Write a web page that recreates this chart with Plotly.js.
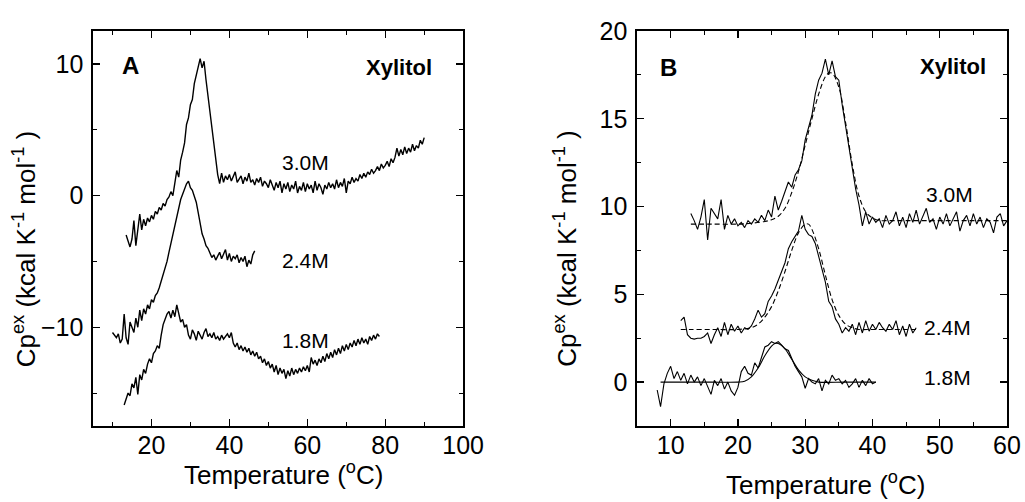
<!DOCTYPE html>
<html>
<head>
<meta charset="utf-8">
<script src="https://cdn.plot.ly/plotly-3.0.1.min.js"></script>
<style>html,body{margin:0;padding:0;background:#fff;}#chart{width:1025px;height:502px;}</style>
</head>
<body>
<div id="chart"></div>
<script>
// ---------- Panel A (raw excess heat capacity curves) ----------
const tA30 = [13.5,14,14.5,15,15.5,16,16.5,17,17.5,18,18.5,19,19.5,20,20.5,21,21.5,22,22.5,23,23.5,24,24.5,25,25.5,26,26.5,27,27.5,28,28.5,29,29.5,30,30.5,31,31.5,32,32.5,33,33.5,34,34.5,35,35.5,36,36.5,37,37.5,38,38.5,39,39.5,40,40.5,41,41.5,42,42.5,43,43.5,44,44.5,45,45.5,46,46.5,47,47.5,48,48.5,49,49.5,50,50.5,51,51.5,52,52.5,53,53.5,54,54.5,55,55.5,56,56.5,57,57.5,58,58.5,59,59.5,60,60.5,61,61.5,62,62.5,63,63.5,64,64.5,65,65.5,66,66.5,67,67.5,68,68.5,69,69.5,70,70.5,71,71.5,72,72.5,73,73.5,74,74.5,75,75.5,76,76.5,77,77.5,78,78.5,79,79.5,80,80.5,81,81.5,82,82.5,83,83.5,84,84.5,85,85.5,86,86.5,87,87.5,88,88.5,89,89.5,90];
const cpA30 = [-3.0,-3.4,-3.9,-3.3,-1.9,-3.8,-2.4,-1.4,-2.6,-1.8,-2.3,-1.7,-2.0,-1.5,-1.8,-1.2,-1.4,-0.9,-1.1,-0.6,-0.8,-0.3,-0.1,0.3,0.0,0.8,1.9,1.4,2.7,3.3,4.0,5.4,5.9,6.9,7.3,8.5,9.2,9.8,10.4,9.7,10.2,8.8,7.6,6.4,5.2,3.9,2.7,1.6,0.9,1.7,1.0,1.5,1.2,1.6,1.1,1.4,1.8,1.0,1.3,1.5,0.9,1.4,1.1,1.7,1.0,1.2,0.8,1.3,1.0,1.4,0.7,1.1,0.9,0.6,1.2,0.8,0.4,1.0,0.6,1.1,0.2,0.9,0.5,1.0,0.3,0.8,0.5,1.1,0.2,0.7,0.4,1.0,0.3,0.9,0.5,0.8,0.2,1.1,0.4,0.9,0.6,0.1,0.8,0.5,1.0,0.6,0.9,0.5,1.2,0.6,1.0,0.7,1.3,0.2,1.1,0.9,1.4,1.0,1.3,1.1,1.6,1.3,1.7,1.4,1.8,1.6,2.0,1.7,1.9,2.2,1.9,2.4,2.1,2.3,2.6,2.2,2.8,2.5,2.9,3.6,3.0,3.5,3.1,3.7,3.2,3.6,3.3,3.9,3.4,3.8,3.6,4.2,3.9,4.4];

const tA24 = [10,10.5,11,11.5,12,12.5,13,13.5,14,14.5,15,15.5,16,16.5,17,17.5,18,18.5,19,19.5,20,20.5,21,21.5,22,22.5,23,23.5,24,24.5,25,25.5,26,26.5,27,27.5,28,28.5,29,29.5,30,30.5,31,31.5,32,32.5,33,33.5,34,34.5,35,35.5,36,36.5,37,37.5,38,38.5,39,39.5,40,40.5,41,41.5,42,42.5,43,43.5,44,44.5,45,45.5,46,46.5];
const cpA24 = [-10.4,-10.6,-10.8,-10.5,-11.2,-10.9,-9.0,-10.8,-11.3,-9.6,-10.1,-10.4,-9.3,-10.0,-8.7,-9.5,-8.6,-9.0,-8.3,-8.6,-7.9,-8.1,-7.6,-7.4,-7.0,-6.5,-6.1,-5.6,-5.0,-4.3,-3.6,-2.9,-2.2,-1.5,-0.9,-0.3,0.1,0.5,0.9,1.1,0.6,0.4,-0.1,-0.5,-1.3,-2.1,-2.9,-3.3,-3.8,-4.0,-4.3,-4.7,-4.5,-4.9,-4.6,-4.3,-4.8,-4.5,-4.1,-4.9,-4.4,-5.0,-4.6,-4.8,-4.5,-5.1,-4.7,-5.0,-4.6,-5.4,-4.9,-5.2,-4.5,-4.2];

const tA18 = [13,13.5,14,14.5,15,15.5,16,16.5,17,17.5,18,18.5,19,19.5,20,20.5,21,21.5,22,22.5,23,23.5,24,24.5,25,25.5,26,26.5,27,27.5,28,28.5,29,29.5,30,30.5,31,31.5,32,32.5,33,33.5,34,34.5,35,35.5,36,36.5,37,37.5,38,38.5,39,39.5,40,40.5,41,41.5,42,42.5,43,43.5,44,44.5,45,45.5,46,46.5,47,47.5,48,48.5,49,49.5,50,50.5,51,51.5,52,52.5,53,53.5,54,54.5,55,55.5,56,56.5,57,57.5,58,58.5,59,59.5,60,60.5,61,61.5,62,62.5,63,63.5,64,64.5,65,65.5,66,66.5,67,67.5,68,68.5,69,69.5,70,70.5,71,71.5,72,72.5,73,73.5,74,74.5,75,75.5,76,76.5,77,77.5,78,78.5];
const cpA18 = [-15.9,-15.5,-15.0,-15.2,-14.3,-14.6,-13.8,-15.1,-13.6,-14.0,-13.2,-13.5,-12.8,-12.4,-12.7,-12.0,-11.8,-11.4,-11.6,-10.6,-9.8,-9.4,-9.0,-8.8,-9.3,-8.7,-9.2,-8.3,-9.0,-9.6,-9.4,-10.0,-9.8,-10.6,-10.9,-10.2,-10.5,-11.0,-10.3,-10.6,-10.9,-10.4,-10.1,-10.7,-10.5,-10.8,-10.4,-10.9,-10.7,-11.0,-10.6,-10.9,-10.7,-10.5,-10.8,-10.4,-11.2,-11.5,-11.2,-11.7,-11.4,-11.8,-11.5,-11.9,-11.6,-12.1,-11.8,-12.2,-11.9,-12.4,-12.2,-12.7,-12.4,-12.9,-12.6,-13.1,-12.8,-13.4,-12.9,-13.6,-13.1,-13.5,-13.2,-13.9,-13.3,-13.7,-13.1,-13.6,-13.2,-13.5,-13.1,-13.4,-13.0,-13.3,-12.9,-13.4,-12.3,-12.8,-12.5,-12.9,-12.4,-12.7,-12.2,-12.6,-12.0,-12.4,-11.9,-12.3,-11.7,-12.1,-11.6,-12.0,-11.4,-11.8,-11.3,-11.7,-11.2,-11.5,-11.0,-11.4,-10.9,-11.3,-10.8,-11.2,-10.9,-11.3,-10.7,-11.0,-10.6,-10.9,-10.5,-10.7];

// ---------- Panel B (baseline-subtracted curves and fits) ----------
const tB30 = [13,13.5,14,14.5,15,15.5,16,16.5,17,17.5,18,18.5,19,19.5,20,20.5,21,21.5,22,22.5,23,23.5,24,24.5,25,25.5,26,26.5,27,27.5,28,28.5,29,29.5,30,30.5,31,31.5,32,32.5,33,33.5,34,34.5,35,35.5,36,36.5,37,37.5,38,38.5,39,39.5,40,40.5,41,41.5,42,42.5,43,43.5,44,44.5,45,45.5,46,46.5,47,47.5,48,48.5,49,49.5,50,50.5,51,51.5,52,52.5,53,53.5,54,54.5,55,55.5,56,56.5,57,57.5,58,58.5,59,59.5,60];
const cpB30 = [9.6,9.2,8.7,9.4,10.4,8.1,9.9,9.6,9.3,10.4,8.7,9.5,9.0,9.3,8.9,9.1,8.8,9.2,9.0,9.3,9.1,9.5,9.2,9.8,9.4,10.6,9.8,10.3,10.8,11.4,11.1,11.8,12.1,12.6,13.8,14.5,15.2,16.4,17.2,17.6,18.4,17.5,18.3,17.4,17.2,15.8,14.6,13.2,12.0,11.0,10.1,8.9,9.7,9.0,9.4,9.1,9.3,8.8,9.5,9.0,9.2,9.7,8.9,9.4,8.8,9.6,9.1,9.8,9.0,9.5,9.9,9.1,9.3,8.7,9.4,9.0,9.6,8.9,9.3,9.7,8.6,9.2,9.5,8.9,9.6,9.0,9.4,8.8,9.3,9.1,8.5,9.4,9.6,8.9,9.2];
const tB30fit = [13,16,20,22,24,25,26,27,28,29,30,31,32,33,33.5,34,35,36,37,38,39,40,41,42,45,50,55,60];
const cpB30fit = [9.0,9.0,9.0,9.05,9.15,9.25,9.45,9.9,10.8,12.0,13.5,15.0,16.4,17.4,17.6,17.6,16.8,14.8,12.4,10.6,9.7,9.35,9.2,9.2,9.2,9.2,9.2,9.2];

const tB24 = [11.5,12,12.5,13,13.5,14,14.5,15,15.5,16,16.5,17,17.5,18,18.5,19,19.5,20,20.5,21,21.5,22,22.5,23,23.5,24,24.5,25,25.5,26,26.5,27,27.5,28,28.5,29,29.5,30,30.5,31,31.5,32,32.5,33,33.5,34,34.5,35,35.5,36,36.5,37,37.5,38,38.5,39,39.5,40,40.5,41,41.5,42,42.5,43,43.5,44,44.5,45,45.5,46,46.5];
const cpB24 = [3.5,3.7,2.7,2.5,2.45,2.5,2.5,2.6,2.8,2.2,2.7,3.1,2.6,3.4,2.7,3.3,2.9,3.2,2.8,3.1,3.0,3.2,3.6,4.1,3.7,3.9,4.6,4.9,5.3,5.8,6.3,6.8,7.6,8.0,8.3,8.6,9.5,8.7,8.4,8.3,7.9,7.2,6.5,5.7,4.6,4.3,3.6,3.3,2.8,3.1,2.9,3.3,2.7,3.4,2.8,3.5,2.9,3.3,3.0,3.4,3.1,2.9,3.3,3.0,3.5,2.7,3.2,2.6,3.3,2.8,3.1];
const tB24fit = [11.5,13,16,20,22,23,24,25,26,27,28,29,30,30.5,31,32,33,34,35,36,37,38,40,43,46.5];
const cpB24fit = [3.0,3.0,3.0,3.0,3.1,3.3,3.7,4.3,5.2,6.3,7.5,8.5,9.0,9.0,8.7,7.6,6.1,4.7,3.8,3.3,3.1,3.0,3.0,3.0,3.0];

const tB18 = [8,8.5,9,9.5,10,10.5,11,11.5,12,12.5,13,13.5,14,14.5,15,15.5,16,16.5,17,17.5,18,18.5,19,19.5,20,20.5,21,21.5,22,22.5,23,23.5,24,24.5,25,25.5,26,26.5,27,27.5,28,28.5,29,29.5,30,30.5,31,31.5,32,32.5,33,33.5,34,34.5,35,35.5,36,36.5,37,37.5,38,38.5,39,39.5,40,40.5];
const cpB18 = [-0.45,-1.4,-0.1,0.5,0.9,0.2,0.6,0.1,0.5,-0.1,0.4,0.0,0.3,-0.2,0.2,-0.3,-0.7,0.1,-0.2,0.2,-0.4,0.0,-0.5,-0.75,-0.3,0.6,0.9,0.5,0.4,1.1,0.8,1.4,2.0,2.1,2.3,2.2,2.3,2.1,1.9,1.8,1.3,0.9,0.6,0.3,-0.35,0.2,0.0,-0.1,0.2,-0.5,0.1,-0.1,0.4,0.1,0.2,-0.1,0.1,-0.3,-0.1,0.2,-0.3,0.1,-0.2,0.2,-0.1,0.0];
const tB18fit = [8.5,12,16,20,21,22,23,24,25,25.5,26,27,28,29,30,31,32,36,40.5];
const cpB18fit = [0.0,0.0,0.0,0.0,0.05,0.3,0.8,1.5,2.05,2.2,2.2,1.9,1.3,0.7,0.3,0.1,0.0,0.0,0.0];

// ---------- Text ----------
const concLabels = ["3.0M", "2.4M", "1.8M"];
const panelLabels = ["A", "B"];
const soluteLabel = "Xylitol";
const xTitle = "Temperature (<sup>o</sup>C)";
const yTitle = "Cp<sup>ex</sup> (kcal K<sup>-1</sup> mol<sup>-1</sup> )";
const labelPosA = {x: [53, 53, 53], y: [2.5, -4.9, -11.0]};
const labelPosB = {x: [47.6, 47.4, 47.4], y: [10.7, 3.1, 0.25]};

const FONT = "Liberation Sans, Arial, Helvetica, sans-serif";
const lineA = {color: "#000", width: 1.4};
const lineB = {color: "#000", width: 1.1};

const traces = [
  {x: tA30, y: cpA30, xaxis: "x", yaxis: "y", mode: "lines", line: lineA, name: "A 3.0M"},
  {x: tA24, y: cpA24, xaxis: "x", yaxis: "y", mode: "lines", line: lineA, name: "A 2.4M"},
  {x: tA18, y: cpA18, xaxis: "x", yaxis: "y", mode: "lines", line: lineA, name: "A 1.8M"},
  {x: tB30, y: cpB30, xaxis: "x2", yaxis: "y2", mode: "lines", line: lineB, name: "B 3.0M"},
  {x: tB30fit, y: cpB30fit, xaxis: "x2", yaxis: "y2", mode: "lines", line: {color: "#000", width: 1.1, dash: "5px,3px", shape: "spline"}, name: "B 3.0M fit"},
  {x: tB24, y: cpB24, xaxis: "x2", yaxis: "y2", mode: "lines", line: lineB, name: "B 2.4M"},
  {x: tB24fit, y: cpB24fit, xaxis: "x2", yaxis: "y2", mode: "lines", line: {color: "#000", width: 1.1, dash: "5px,3px", shape: "spline"}, name: "B 2.4M fit"},
  {x: tB18, y: cpB18, xaxis: "x2", yaxis: "y2", mode: "lines", line: lineB, name: "B 1.8M"},
  {x: tB18fit, y: cpB18fit, xaxis: "x2", yaxis: "y2", mode: "lines", line: {color: "#000", width: 1.1, shape: "spline"}, name: "B 1.8M fit"}
];

function axisBase(extra) {
  return Object.assign({
    showline: true, linecolor: "#000", linewidth: 1.6, mirror: "ticks",
    ticks: "inside", ticklen: 7, tickwidth: 1.3, tickcolor: "#000",
    showgrid: false, zeroline: false,
    tickfont: {family: FONT, size: 25, color: "#000"},
    ticklabelstandoff: 3,
    fixedrange: true
  }, extra);
}
const minorTicks = d => ({dtick: d, ticks: "inside", ticklen: 4, tickwidth: 1.1, tickcolor: "#000", showgrid: false});

const annotations = [];
function addText(xref, yref, x, y, text, opts) {
  annotations.push(Object.assign({xref: xref, yref: yref, x: x, y: y, text: text, showarrow: false,
    font: {family: FONT, size: 21, color: "#000"}}, opts || {}));
}
const titleFont = {family: FONT, size: 26, color: "#000"};
const centered = {xanchor: "center", yanchor: "middle"};
// Panel A
addText("x domain", "y domain", 0.072, 0.952, "<b>" + panelLabels[0] + "</b>", {font: {family: FONT, size: 24, color: "#000"}});
addText("x domain", "y domain", 0.92, 0.944, "<b>" + soluteLabel + "</b>", {xanchor: "right", font: {family: FONT, size: 22, color: "#000"}});
for (let i = 0; i < 3; i++) addText("x", "y", labelPosA.x[i], labelPosA.y[i], concLabels[i], {xanchor: "left"});
addText("paper", "paper", -0.0755, 0.45, yTitle, Object.assign({textangle: -90, font: titleFont}, centered));
addText("paper", "paper", 0.2079, -0.1215, xTitle, Object.assign({font: titleFont}, centered));
// Panel B
addText("x2 domain", "y2 domain", 0.058, 0.947, "<b>" + panelLabels[1] + "</b>", {font: {family: FONT, size: 24, color: "#000"}});
addText("x2 domain", "y2 domain", 0.948, 0.947, "<b>" + soluteLabel + "</b>", {xanchor: "right", font: {family: FONT, size: 22, color: "#000"}});
for (let i = 0; i < 3; i++) addText("x2", "y2", labelPosB.x[i], labelPosB.y[i], concLabels[i], {xanchor: "left"});
addText("paper", "paper", 0.517, 0.45, yTitle, Object.assign({textangle: -90, font: titleFont}, centered));
addText("paper", "paper", 0.8009, -0.1468, xTitle, Object.assign({font: titleFont}, centered));

const layout = {
  width: 1025, height: 502,
  margin: {l: 93, r: 18, t: 31, b: 76},
  paper_bgcolor: "#fff", plot_bgcolor: "#fff",
  showlegend: false,
  xaxis: axisBase({domain: [0, 0.405], range: [5, 100], dtick: 20, tick0: 0, minor: minorTicks(10), anchor: "y", ticklabelstandoff: -4}),
  yaxis: axisBase({domain: [0, 1], range: [-17.5, 12.5], dtick: 10, tick0: 0, minor: minorTicks(5), anchor: "x"}),
  xaxis2: axisBase({domain: [0.5952, 1], range: [5, 60], dtick: 10, tick0: 0, minor: minorTicks(5), anchor: "y2", ticklabelstandoff: -4}),
  yaxis2: axisBase({domain: [0, 1], range: [-2.5, 20], dtick: 5, tick0: 0, minor: minorTicks(2.5), anchor: "x2"}),
  annotations: annotations
};

Plotly.newPlot("chart", traces, layout, {staticPlot: true, displayModeBar: false});
</script>
</body>
</html>
